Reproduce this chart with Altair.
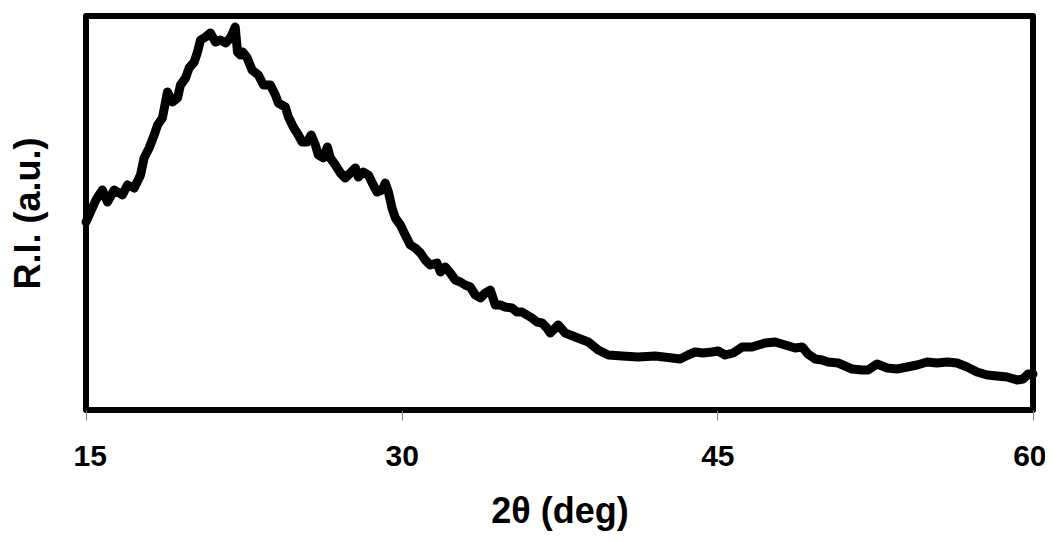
import altair as alt
import pandas as pd

two_theta = [15.0, 15.47, 15.78, 16.02, 16.34, 16.73, 16.97, 17.29, 17.59, 17.76,
             18.00, 18.24, 18.40, 18.63, 18.87, 19.11, 19.35, 19.49, 19.73, 19.90,
             20.14, 20.30, 20.44, 20.68, 20.91, 21.15, 21.39, 21.63, 21.86, 22.09,
             22.20, 22.34, 22.45, 22.66, 22.89, 23.19, 23.43, 23.76, 24.00, 24.14,
             24.47, 24.62, 24.85, 25.09, 25.27, 25.51, 25.70, 25.90, 26.04, 26.28,
             26.47, 26.61, 26.85, 27.09, 27.32, 27.56, 27.80, 27.94, 28.18, 28.42,
             28.65, 28.83, 29.07, 29.22, 29.37, 29.54, 29.70, 29.94, 30.17, 30.41,
             30.65, 30.89, 31.12, 31.36, 31.68, 31.84, 32.07, 32.31, 32.55, 32.79,
             33.02, 33.26, 33.50, 33.74, 33.97, 34.21, 34.45, 34.69, 34.92, 35.24,
             35.48, 35.72, 35.95, 36.19, 36.43, 36.67, 36.90, 37.06, 37.30, 37.44,
             37.77, 38.25, 38.87, 39.34, 39.82, 40.48, 41.24, 42.05, 42.85, 43.23,
             43.61, 43.94, 44.32, 44.75, 45.04, 45.37, 45.75, 46.18, 46.65, 47.27,
             47.75, 48.22, 48.70, 49.03, 49.31, 49.65, 49.98, 50.26, 50.74, 51.07,
             51.40, 51.88, 52.16, 52.59, 53.07, 53.54, 54.02, 54.49, 54.97, 55.44,
             55.92, 56.39, 56.87, 57.34, 57.82, 58.29, 58.77, 59.24, 59.53, 59.77,
             60.0]
intensity = [188, 210, 220, 208, 220, 215, 225, 222, 235, 252,
             262, 275, 285, 292, 318, 308, 312, 325, 332, 342,
             348, 358, 370, 373, 377, 368, 370, 367, 372, 383,
             358, 355, 358, 352, 340, 335, 325, 325, 315, 307,
             303, 293, 283, 275, 268, 268, 275, 265, 255, 252,
             263, 252, 245, 237, 232, 237, 242, 233, 238, 235,
             225, 218, 220, 227, 218, 202, 192, 185, 175, 165,
             162, 157, 150, 145, 147, 138, 143, 137, 130, 128,
             125, 123, 115, 112, 117, 120, 105, 105, 103, 102,
             98, 98, 95, 92, 88, 87, 82, 77, 82, 85,
             77, 73, 68, 60, 55, 54, 53, 54, 52, 51,
             55, 58, 57, 58, 59, 55, 57, 63, 63, 67,
             68, 65, 62, 63, 56, 51, 50, 48, 47, 44,
             41, 40, 40, 46, 42, 41, 43, 45, 48, 47,
             48, 47, 43, 38, 35, 34, 33, 30, 31, 36,
             36]
tick_values = [15, 30, 45, 60]

df = pd.DataFrame({"t": two_theta, "i": intensity})

FONT = "Liberation Sans"

chart = alt.Chart(df).mark_line(
    color="black", strokeWidth=9, strokeCap="round", strokeJoin="round"
).encode(
    x=alt.X("t:Q", title="2θ (deg)",
            scale=alt.Scale(domain=[15, 60], nice=False, zero=False),
            axis=alt.Axis(values=tick_values, format="d", grid=False, domain=False,
                          tickColor="#808080", tickWidth=1, tickSize=10,
                          labelFlush=True, labelFlushOffset=13,
                          labelOverlap=False, labelBound=False,
                          labelFont=FONT, labelFontSize=30, labelFontWeight="bold",
                          labelColor="black", labelPadding=21,
                          titleFont=FONT, titleFontSize=36, titleFontWeight="bold",
                          titleColor="black", titlePadding=23)),
    y=alt.Y("i:Q", title="R.I. (a.u.)",
            scale=alt.Scale(domain=[0, 394], nice=False, zero=False),
            axis=alt.Axis(labels=False, ticks=False, grid=False, domain=False,
                          titleFont=FONT, titleFontSize=36, titleFontWeight="bold",
                          titleColor="black", titlePadding=39)),
).properties(
    width=947, height=394,
    autosize=alt.AutoSizeParams(type="none"),
    padding={"left": 78, "top": 8, "right": 12, "bottom": 122},
).configure_view(
    stroke="black", strokeWidth=6, strokeJoin="round"
)

chart.save("out.html", embed_options={"renderer": "svg", "actions": False})
